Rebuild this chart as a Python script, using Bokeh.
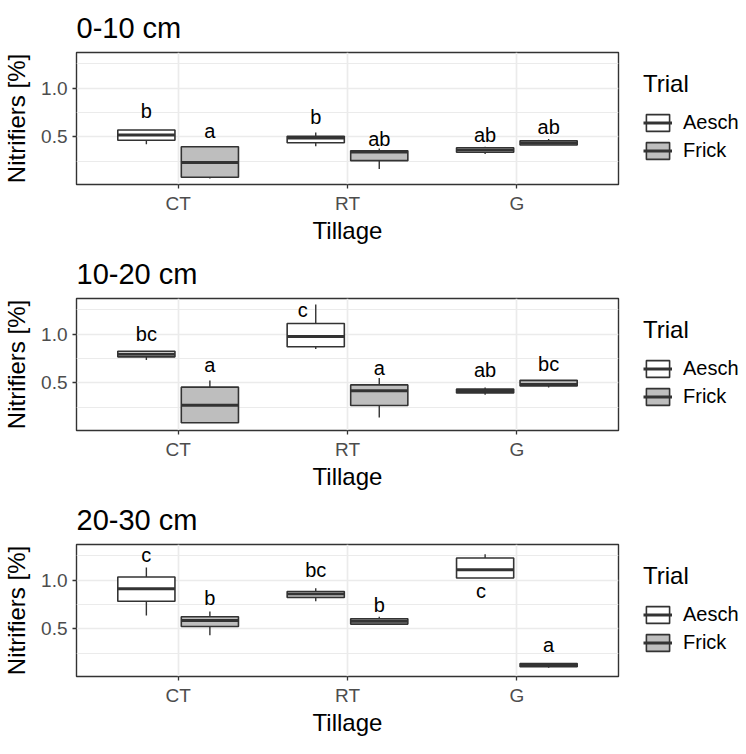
from bokeh.plotting import figure
from bokeh.models import (ColumnDataSource, FixedTicker, Legend, LegendItem, Range1d,
                          PrintfTickFormatter)
from bokeh.layouts import column
from bokeh.embed import file_html
from bokeh.resources import INLINE
from bokeh.core.properties import value

# ---------------- data ----------------
tillage = ["CT", "RT", "G"]
trials = ["Aesch", "Frick"]
depths = ["0-10 cm", "10-20 cm", "20-30 cm"]

group_tillage = ["CT", "CT", "RT", "RT", "G", "G"]
group_trial = ["Aesch", "Frick", "Aesch", "Frick", "Aesch", "Frick"]

# 0-10 cm
low_0_10 = [0.424, 0.074, 0.405, 0.172, 0.326, 0.418]
q1_0_10 = [0.467, 0.087, 0.441, 0.257, 0.343, 0.418]
med_0_10 = [0.520, 0.237, 0.490, 0.346, 0.366, 0.438]
q3_0_10 = [0.572, 0.399, 0.507, 0.359, 0.389, 0.461]
high_0_10 = [0.572, 0.399, 0.546, 0.382, 0.400, 0.480]
letters_0_10 = ["b", "a", "b", "ab", "ab", "ab"]
letter_y_0_10 = [0.770, 0.566, 0.700, 0.483, 0.523, 0.605]
letter_dx_0_10 = [0, 0, 0, 0, 0, 0]

# 10-20 cm
low_10_20 = [0.736, 0.092, 0.848, 0.146, 0.378, 0.454]
q1_10_20 = [0.768, 0.092, 0.871, 0.268, 0.398, 0.470]
med_10_20 = [0.795, 0.271, 0.977, 0.420, 0.418, 0.485]
q3_10_20 = [0.825, 0.457, 1.110, 0.480, 0.437, 0.527]
high_10_20 = [0.825, 0.524, 1.305, 0.550, 0.454, 0.527]
letters_10_20 = ["bc", "a", "c", "a", "ab", "bc"]
letter_y_10_20 = [1.007, 0.683, 1.250, 0.656, 0.633, 0.699]
letter_dx_10_20 = [0, 0, -0.077, 0, 0, 0]

# 20-30 cm
low_20_30 = [0.639, 0.436, 0.784, 0.550, 1.023, 0.102]
q1_20_30 = [0.784, 0.526, 0.824, 0.550, 1.023, 0.112]
med_20_30 = [0.914, 0.586, 0.858, 0.580, 1.109, 0.128]
q3_20_30 = [1.033, 0.625, 0.884, 0.605, 1.229, 0.145]
high_20_30 = [1.132, 0.679, 0.917, 0.625, 1.268, 0.145]
letters_20_30 = ["c", "b", "bc", "b", "c", "a"]
letter_y_20_30 = [1.260, 0.818, 1.106, 0.742, 0.890, 0.334]
letter_dx_20_30 = [0, 0, 0, 0, -0.024, 0]

y_major = [0.5, 1.0]
y_minor = [0.25, 0.75, 1.25]
y_limits = (0.012, 1.367)

panels = [
    (depths[0], low_0_10, q1_0_10, med_0_10, q3_0_10, high_0_10,
     letters_0_10, letter_y_0_10, letter_dx_0_10),
    (depths[1], low_10_20, q1_10_20, med_10_20, q3_10_20, high_10_20,
     letters_10_20, letter_y_10_20, letter_dx_10_20),
    (depths[2], low_20_30, q1_20_30, med_20_30, q3_20_30, high_20_30,
     letters_20_30, letter_y_20_30, letter_dx_20_30),
]

# ---------------- styling ----------------
FONT = "Liberation Sans"
DARK = "#333333"
fills = {"Aesch": "#FFFFFF", "Frick": "#BEBEBE"}
dodge = {"Aesch": -0.1875, "Frick": 0.1875}
box_w = 0.3375

FIG_W = 736
FIG_H = 246
FRAME_W = 542


def make_panel(title, low, q1, med, q3, high, letters, ly, ldx):
    p = figure(width=FIG_W, height=FIG_H, frame_width=FRAME_W,
               output_backend="svg", toolbar_location=None,
               x_range=Range1d(0.4, 3.6), y_range=Range1d(*y_limits),
               min_border_left=0, min_border_right=0, min_border_top=0,
               min_border_bottom=0)
    p.background_fill_color = "white"
    p.border_fill_color = "white"
    p.outline_line_color = DARK
    p.outline_line_width = 1.4

    p.title.text = title
    p.title.text_font = FONT
    p.title.text_font_size = "29px"
    p.title.text_font_style = "normal"
    p.title.text_color = "black"
    p.title.align = "left"
    p.title.standoff = 18

    # axes
    p.xaxis.ticker = FixedTicker(ticks=[1, 2, 3])
    p.xaxis.major_label_overrides = {i + 1: t for i, t in enumerate(tillage)}
    p.yaxis.ticker = FixedTicker(ticks=y_major, minor_ticks=y_minor)
    p.yaxis.formatter = PrintfTickFormatter(format="%.1f")
    p.xaxis.axis_label = "Tillage"
    p.yaxis.axis_label = "Nitrifiers [%]"
    for ax in (p.xaxis[0], p.yaxis[0]):
        ax.axis_line_color = None
        ax.major_tick_line_color = DARK
        ax.major_tick_line_width = 1.3
        ax.major_tick_out = 4
        ax.major_tick_in = 0
        ax.minor_tick_line_color = None
        ax.major_label_text_font = FONT
        ax.major_label_text_font_size = "19px"
        ax.major_label_text_color = "#4D4D4D"
        ax.major_label_standoff = 5
        ax.axis_label_text_font = FONT
        ax.axis_label_text_font_size = "24px"
        ax.axis_label_text_font_style = "normal"
        ax.axis_label_text_color = "black"
    p.yaxis.axis_label_standoff = 8
    p.xaxis.major_label_standoff = 4
    p.xaxis.axis_label_standoff = 0

    # grid
    p.xgrid.ticker = FixedTicker(ticks=[1, 2, 3])
    p.xgrid.grid_line_color = "#EBEBEB"
    p.xgrid.grid_line_width = 1.7
    p.ygrid.ticker = FixedTicker(ticks=y_major, minor_ticks=y_minor)
    p.ygrid.grid_line_color = "#EBEBEB"
    p.ygrid.grid_line_width = 1.7
    p.ygrid.minor_grid_line_color = "#EBEBEB"
    p.ygrid.minor_grid_line_width = 1.1

    items = []
    for trial in trials:
        idx = [i for i, t in enumerate(group_trial) if t == trial]
        xs = [tillage.index(group_tillage[i]) + 1 + dodge[trial] for i in idx]
        src = ColumnDataSource(dict(
            x=xs,
            x0=[x - box_w / 2 for x in xs],
            x1=[x + box_w / 2 for x in xs],
            low=[low[i] for i in idx],
            q1=[q1[i] for i in idx],
            med=[med[i] for i in idx],
            q3=[q3[i] for i in idx],
            high=[high[i] for i in idx],
            letter=[letters[i] for i in idx],
            lx=[x + ldx[i] for x, i in zip(xs, idx)],
            ly=[ly[i] for i in idx],
        ))
        p.segment(x0="x", y0="q3", x1="x", y1="high", source=src,
                  line_color=DARK, line_width=1.4)
        p.segment(x0="x", y0="q1", x1="x", y1="low", source=src,
                  line_color=DARK, line_width=1.4)
        box = p.vbar(x="x", width=box_w, bottom="q1", top="q3", source=src,
                     fill_color=fills[trial], line_color=DARK, line_width=1.6)
        medr = p.segment(x0="x0", y0="med", x1="x1", y1="med", source=src,
                         line_color=DARK, line_width=3.0)
        p.text(x="lx", y="ly", text="letter", source=src,
               text_align="center", text_baseline="middle",
               text_font=value(FONT), text_font_size="20px", text_color="black")
        items.append(LegendItem(label=trial, renderers=[box, medr]))

    legend = Legend(items=items, title="Trial", location=(25, 22))
    legend.title_text_font = FONT
    legend.title_text_font_size = "24px"
    legend.title_text_font_style = "normal"
    legend.title_text_color = "black"
    legend.title_standoff = 13
    legend.label_text_font = FONT
    legend.label_text_font_size = "20px"
    legend.label_text_color = "black"
    legend.glyph_width = 29
    legend.glyph_height = 21
    legend.label_height = 21
    legend.label_standoff = 11
    legend.spacing = 5
    legend.padding = 2
    legend.margin = 0
    legend.border_line_color = None
    legend.background_fill_alpha = 0
    p.add_layout(legend, "right")
    return p


figs = [make_panel(*args) for args in panels]
layout = column(*figs, spacing=0)

open("out.html", "w").write(file_html(layout, INLINE))
